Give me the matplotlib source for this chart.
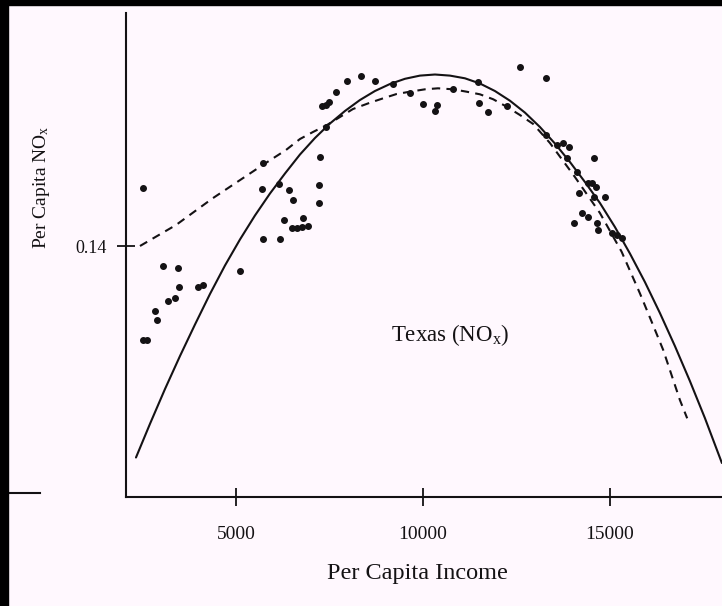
import matplotlib
matplotlib.use('Agg')
import matplotlib.pyplot as plt
from matplotlib.lines import Line2D
from matplotlib.patches import Rectangle

# 散点：人均收入 vs 人均 NOx
income = [2523, 3057, 3458, 3485, 3370, 3191, 3977, 4111, 2835, 2881,
          2507, 2630, 5108, 5715, 6178, 5689, 6151, 6411, 6534, 6293,
          6801, 6491, 6625, 6758, 6935, 7229, 7229, 5731, 7248, 7408,
          7293, 7408, 7496, 7675, 7978, 8336, 8718, 9208, 9654, 10010,
          10323, 10368, 10812, 11480, 11507, 11748, 12256, 12596, 13291, 13291,
          13577, 13754, 13914, 13844, 14112, 14583, 14422, 14513, 14628, 14181,
          14583, 14868, 14245, 14422, 14040, 14663, 14690, 15048, 15182, 15315]
nox = [0.1586, 0.1336, 0.1330, 0.1269, 0.1234, 0.1224, 0.1270, 0.1275, 0.1193, 0.1163,
       0.1101, 0.1101, 0.1320, 0.1423, 0.1423, 0.1582, 0.1597, 0.1580, 0.1546, 0.1482,
       0.1490, 0.1457, 0.1459, 0.1462, 0.1464, 0.1536, 0.1595, 0.1664, 0.1685, 0.1781,
       0.1847, 0.1850, 0.1860, 0.1892, 0.1927, 0.1943, 0.1925, 0.1916, 0.1889, 0.1853,
       0.1832, 0.1850, 0.1900, 0.1924, 0.1855, 0.1828, 0.1847, 0.1972, 0.1935, 0.1754,
       0.1722, 0.1728, 0.1717, 0.1680, 0.1637, 0.1680, 0.1600, 0.1602, 0.1589, 0.1568,
       0.1557, 0.1557, 0.1504, 0.1494, 0.1473, 0.1473, 0.1451, 0.1441, 0.1435, 0.1425]

# 实线：参数拟合曲线（读图取点）
fit_income = [2327, 2702, 3103, 3504, 3905, 4306, 4707, 5108, 5509, 5911,
              6312, 6713, 7114, 7515, 7916, 8317, 8718, 9119, 9520, 9922,
              10323, 10724, 11125, 11526, 11927, 12328, 12729, 13130, 13531, 13933,
              14334, 14735, 15136, 15537, 15938, 16339, 16740, 17141, 17542, 17997]
fit_nox = [0.07259, 0.08334, 0.09443, 0.10495, 0.11499, 0.12472, 0.13380, 0.14209, 0.14974, 0.15676,
           0.16313, 0.16919, 0.17445, 0.17907, 0.18306, 0.18656, 0.18943, 0.19166, 0.19332, 0.19434,
           0.19469, 0.19434, 0.19348, 0.19182, 0.18943, 0.18634, 0.18255, 0.17796, 0.17270, 0.16680,
           0.16042, 0.15373, 0.14608, 0.13763, 0.12854, 0.11866, 0.10814, 0.09698, 0.08519, 0.07084]

# 虚线：非参数拟合曲线（读图取点）
np_income = [2434, 3397, 4378, 5181, 5715, 6338, 6713, 7060, 7435, 8130,
             8585, 8940, 9298, 9654, 10055, 10403, 10812, 11170, 11526, 11882,
             12240, 12596, 12951, 13398, 14066, 14735, 15315, 15804, 16118, 16428,
             16874, 17069]
np_nox = [0.14002, 0.14671, 0.15523, 0.16160, 0.16584, 0.17062, 0.17413, 0.17636, 0.17859, 0.18369,
          0.18570, 0.18711, 0.18848, 0.18921, 0.18997, 0.19029, 0.18997, 0.18921, 0.18838, 0.18679,
          0.18443, 0.18178, 0.17891, 0.17286, 0.16202, 0.15054, 0.13820, 0.12494, 0.11589, 0.10686,
          0.09092, 0.08509]

x_ticks = [5000, 10000, 15000]
y_ticks = [0.14]
y_tick_labels = ['0.14']

plt.rcParams['font.family'] = ['Liberation Serif', 'DejaVu Serif']
plt.rcParams['mathtext.fontset'] = 'custom'
plt.rcParams['mathtext.rm'] = 'Liberation Serif'
plt.rcParams['mathtext.it'] = 'Liberation Serif:italic'
plt.rcParams['mathtext.default'] = 'regular'

ink = '#141214'
bg = '#fff8fe'

fig = plt.figure(figsize=(7.22, 6.06), dpi=100, facecolor=bg)
ax = fig.add_axes([126 / 722, 109 / 606, 1 - 126 / 722, 484 / 606])
ax.set_facecolor(bg)

ax.plot(fit_income, fit_nox, color=ink, lw=1.5, solid_joinstyle='round', solid_capstyle='round')
ax.plot(np_income, np_nox, color=ink, lw=1.5, dashes=(4, 3))
ax.plot(income, nox, 'o', color=ink, ms=4.0, mec=ink)

ax.set_xlim(2060, 18000)
ax.set_ylim(0.06, 0.2143)

for s in ['top', 'right']:
    ax.spines[s].set_visible(False)
for s in ['left', 'bottom']:
    ax.spines[s].set_color(ink)
    ax.spines[s].set_linewidth(1.5)

ax.set_xticks(x_ticks)
ax.set_xticklabels([str(v) for v in x_ticks])
ax.set_yticks(y_ticks)
ax.set_yticklabels(y_tick_labels)
ax.tick_params(axis='both', direction='inout', length=13.5, width=1.3, color=ink)
ax.tick_params(axis='x', labelsize=14, pad=14, labelcolor=ink)
ax.tick_params(axis='y', labelsize=13, pad=7, labelcolor=ink)

ax.text(9146, 0.1116, 'Texas (NO$_x$)', fontsize=16.5, color=ink, ha='left', va='center')

fig.text(417 / 722, 1 - 574 / 606, 'Per Capita Income', fontsize=17.5, color=ink,
         ha='center', va='center')
fig.text(42 / 722, 1 - 187 / 606, 'Per Capita NO$_x$', fontsize=14, color=ink,
         ha='center', va='center', rotation=90)

# 扫描件边缘：黑边和左侧残留短线
fig.add_artist(Line2D([8 / 722, 40 / 722], [1 - 493 / 606, 1 - 493 / 606],
                      color=ink, lw=1.5, transform=fig.transFigure))
fig.add_artist(Rectangle((0, 1 - 5 / 606), 1, 5 / 606, transform=fig.transFigure,
                         color='black', zorder=10))
fig.add_artist(Rectangle((0, 0), 8 / 722, 1, transform=fig.transFigure,
                         color='black', zorder=10))

fig.savefig('out.png', dpi=100, facecolor=bg)
